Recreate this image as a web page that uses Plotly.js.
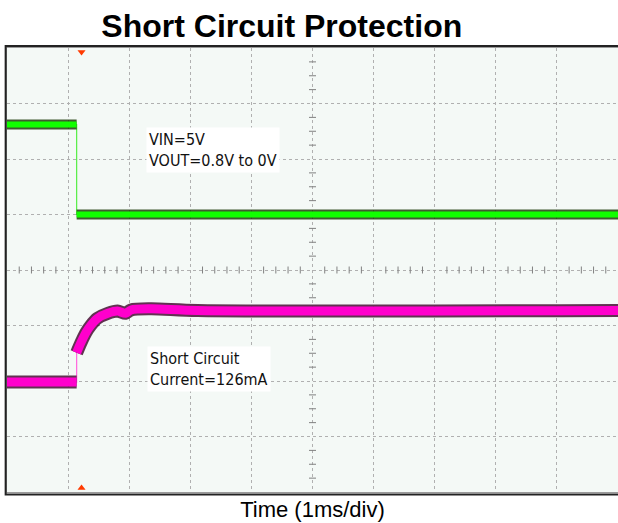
<!DOCTYPE html>
<html>
<head>
<meta charset="utf-8">
<script src="https://cdn.plot.ly/plotly-3.0.1.min.js"></script>
<style>html,body{margin:0;padding:0;background:#fff;}#chart{width:618px;height:523px;}</style>
</head>
<body>
<div id="chart"></div>
<script>
// Time in divisions (1 ms/div), levels in screen divisions (0 = bottom of graticule)
const vinTime = [0, 1.14, 1.14, 10];
const vinLevel = [6.62, 6.62, 5.0, 5.0];
const curTime = [0, 1.14, 1.14, 1.21, 1.29, 1.37, 1.48, 1.65, 1.81, 1.94, 2.03, 2.35, 3.12, 10];
const curLevel = [1.98, 1.98, 2.51, 2.69, 2.87, 3.0, 3.13, 3.22, 3.26, 3.22, 3.28, 3.30, 3.27, 3.27];
const triggerTime = [1.22];
const note1 = ['VIN=5V', 'VOUT=0.8V to 0V'];
const note2 = ['Short Circuit', 'Current=126mA'];
const xTitle = 'Time (1ms/div)';
const chartTitle = 'Short Circuit Protection';

// split a stepped path at its vertical edge (index 1->2) so the edge stays thin
function thickPath(t, v) {
  return {x: t.slice(0, 2).concat([null]).concat(t.slice(2)),
          y: v.slice(0, 2).concat([null]).concat(v.slice(2))};
}
const gThick = thickPath(vinTime, vinLevel);
const mThick = thickPath(curTime, curLevel);

// graticule minor ticks on centre lines
const hx = [], hy = [], vx = [], vy = [];
for (let i = 1; i < 50; i++) { if (i % 5) { hx.push(i * 0.2); hy.push(4); } }
for (let i = 1; i < 32; i++) { if (i % 4) { vx.push(5); vy.push(i * 0.25); } }

const traces = [
  {x: hx, y: hy, mode: 'markers', marker: {symbol: 'line-ns', size: 5, line: {width: 1, color: '#808080'}}, hoverinfo: 'skip'},
  {x: vx, y: vy, mode: 'markers', marker: {symbol: 'line-ew', size: 5, line: {width: 1, color: '#808080'}}, hoverinfo: 'skip'},
  // green VIN/VOUT trace
  {x: vinTime, y: vinLevel, mode: 'lines', line: {color: '#55ee44', width: 1.2}, hoverinfo: 'skip'},
  {x: gThick.x, y: gThick.y, mode: 'lines', line: {color: 'rgba(20,50,0,0.8)', width: 10}, connectgaps: false, hoverinfo: 'skip'},
  {x: gThick.x, y: gThick.y, mode: 'lines', line: {color: '#11ff00', width: 6}, connectgaps: false, hoverinfo: 'skip'},
  // magenta current trace
  {x: curTime, y: curLevel, mode: 'lines', line: {color: '#ff66dd', width: 1.2}, hoverinfo: 'skip'},
  {x: mThick.x, y: mThick.y, mode: 'lines', line: {color: 'rgba(60,0,40,0.8)', width: 13, shape: 'spline', smoothing: 0.8}, connectgaps: false, hoverinfo: 'skip'},
  {x: mThick.x, y: mThick.y, mode: 'lines', line: {color: '#ff00cc', width: 9, shape: 'spline', smoothing: 0.8}, connectgaps: false, hoverinfo: 'skip'},
  // trigger markers
  {x: triggerTime, y: [7.93], mode: 'markers', marker: {symbol: 'triangle-down', size: 7, color: '#ff3a00'}, cliponaxis: false, hoverinfo: 'skip'},
  {x: triggerTime, y: [0.07], mode: 'markers', marker: {symbol: 'triangle-up', size: 7, color: '#ff3a00'}, cliponaxis: false, hoverinfo: 'skip'}
];

const noteFont = {family: 'DejaVu Sans Condensed, DejaVu Sans', size: 16, color: '#111'};
const layout = {
  width: 618, height: 523,
  margin: {l: 7, r: 0, t: 48, b: 31, pad: 0},
  paper_bgcolor: '#ffffff',
  plot_bgcolor: '#f4f9f6',
  showlegend: false,
  title: {text: chartTitle, font: {family: 'Liberation Sans, Arial', size: 32, color: '#000', weight: 'bold'},
          x: 0.456, xref: 'container', xanchor: 'center', y: 0.951, yref: 'container', yanchor: 'middle'},
  xaxis: {range: [0, 10], dtick: 1, showgrid: true, gridcolor: '#b0b0b0', griddash: 'dot', gridwidth: 1,
          zeroline: false, showticklabels: false, ticks: '', showline: true, mirror: true, linecolor: '#9a9a9a', linewidth: 1,
          title: {text: xTitle, font: {family: 'Liberation Sans, Arial', size: 22, color: '#000'}, standoff: 9}, fixedrange: true},
  yaxis: {range: [0, 8], dtick: 1, showgrid: true, gridcolor: '#b0b0b0', griddash: 'dot', gridwidth: 1,
          zeroline: false, showticklabels: false, ticks: '', showline: true, mirror: true, linecolor: '#9a9a9a', linewidth: 1, fixedrange: true},
  shapes: [
    {type: 'rect', xref: 'paper', yref: 'paper', x0: -0.0022, x1: 1.02, y0: -0.0058, y1: 1.0045,
     line: {color: '#222', width: 2}, fillcolor: 'rgba(0,0,0,0)', layer: 'above'}
  ],
  annotations: [
    {x: 2.27, y: 6.17, xref: 'x', yref: 'y', xanchor: 'left', yanchor: 'middle', align: 'left', showarrow: false,
     text: note1.join('<br>'), font: noteFont, bgcolor: '#ffffff', borderpad: 2},
    {x: 2.29, y: 2.22, xref: 'x', yref: 'y', xanchor: 'left', yanchor: 'middle', align: 'left', showarrow: false,
     text: note2.join('<br>'), font: noteFont, bgcolor: '#ffffff', borderpad: 2}
  ]
};
Plotly.newPlot('chart', traces, layout, {staticPlot: true, displayModeBar: false});
</script>
</body>
</html>
